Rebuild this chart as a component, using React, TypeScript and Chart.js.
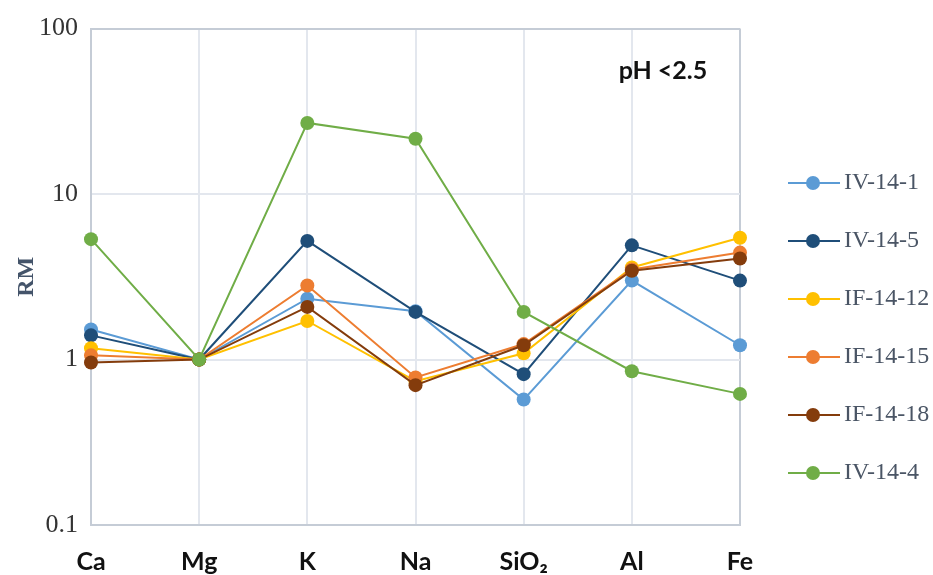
import React, { useEffect, useRef } from "react";
import { Chart, registerables } from "chart.js";

Chart.register(...registerables);

const categories = ["Ca", "Mg", "K", "Na", "SiO\u2082", "Al", "Fe"];
const seriesNames = ["IV-14-1", "IV-14-5", "IF-14-12", "IF-14-15", "IF-14-18", "IV-14-4"];
const seriesColors = ["#5B9BD5", "#1F4E79", "#FFC000", "#ED7D31", "#843C0C", "#70AD47"];
const iv14_1 = [1.52, 1.0, 2.33, 1.96, 0.573, 3.0, 1.22];
const iv14_5 = [1.4, 1.0, 5.21, 1.94, 0.816, 4.9, 3.0];
const if14_12 = [1.17, 1.0, 1.71, 0.74, 1.09, 3.6, 5.45];
const if14_15 = [1.06, 1.0, 2.8, 0.78, 1.24, 3.5, 4.43];
const if14_18 = [0.96, 1.0, 2.08, 0.7, 1.22, 3.44, 4.08];
const iv14_4 = [5.34, 1.0, 26.9, 21.6, 1.94, 0.85, 0.62];
const seriesValues = [iv14_1, iv14_5, if14_12, if14_15, if14_18, iv14_4];
const yTickValues = [0.1, 1, 10, 100];
const annotationText = "pH <2.5";

function makeLegendIcon(color: string): HTMLCanvasElement {
  const c = document.createElement("canvas");
  c.width = 74;
  c.height = 16;
  const g = c.getContext("2d")!;
  g.strokeStyle = color;
  g.lineWidth = 2;
  g.beginPath();
  g.moveTo(22, 8);
  g.lineTo(74, 8);
  g.stroke();
  g.fillStyle = color;
  g.beginPath();
  g.arc(47, 8, 7, 0, Math.PI * 2);
  g.fill();
  return c;
}

const annotationPlugin = {
  id: "phLabel",
  afterDraw(chart: any) {
    const { ctx, chartArea } = chart;
    ctx.save();
    ctx.font = "bold 25px Lato, 'Open Sans', sans-serif";
    ctx.fillStyle = "#111111";
    ctx.textAlign = "center";
    ctx.textBaseline = "middle";
    ctx.fillText(annotationText, chartArea.right - 77, chartArea.top + 42);
    ctx.restore();
  },
};

export default function App() {
  const ref = useRef<HTMLCanvasElement | null>(null);
  useEffect(() => {
    if (!ref.current) return;
    const icons = seriesColors.map(makeLegendIcon);
    const gridLight = "#e3e7ee";
    const gridDark = "#c5ccd6";
    const serif = "'Liberation Serif', 'Times New Roman', serif";
    const chart = new Chart(ref.current, {
      type: "line",
      data: {
        labels: categories,
        datasets: seriesNames.map((name, i) => ({
          label: name,
          data: seriesValues[i],
          borderColor: seriesColors[i],
          backgroundColor: seriesColors[i],
          pointBackgroundColor: seriesColors[i],
          pointBorderColor: seriesColors[i],
          borderWidth: 2,
          pointRadius: 7,
          pointBorderWidth: 0,
          tension: 0,
          fill: false,
          order: seriesNames.length - i,
        })),
      },
      options: {
        animation: false,
        responsive: true,
        maintainAspectRatio: false,
        layout: { padding: { top: 24, right: 0, bottom: 0, left: 0 } },
        plugins: {
          tooltip: { enabled: false },
          legend: {
            position: "right",
            align: "start",
            maxWidth: 193,
            title: { display: true, text: "", padding: { top: 98.6, bottom: 0 } },
            labels: {
              usePointStyle: true,
              pointStyleWidth: 58,
              padding: 34,
              color: "#4a5565",
              font: { family: serif, size: 24 },
              generateLabels: (ch: any) =>
                ch.data.datasets.map((ds: any, i: number) => ({
                  text: ds.label,
                  fillStyle: seriesColors[i],
                  strokeStyle: seriesColors[i],
                  lineWidth: 0,
                  pointStyle: icons[i],
                  hidden: false,
                  datasetIndex: i,
                  fontColor: "#4a5565",
                })),
            },
          },
        },
        scales: {
          x: {
            type: "category",
            offset: false,
            grid: {
              offset: false,
              drawTicks: false,
              lineWidth: 2,
              color: (c: any) => (c.index === categories.length - 1 ? gridDark : gridLight),
            },
            border: { color: gridDark, width: 2 },
            ticks: {
              padding: 22,
              color: "#111111",
              maxRotation: 0,
              autoSkip: false,
              font: { family: "Lato, 'Open Sans', 'DejaVu Sans', sans-serif", size: 25, weight: "bold" },
            },
            afterFit: (s: any) => {
              s.height = 50;
            },
          },
          y: {
            type: "logarithmic",
            min: 0.1,
            max: 100,
            afterBuildTicks: (s: any) => {
              s.ticks = yTickValues.map((v) => ({ value: v }));
            },
            afterFit: (s: any) => {
              s.width = 91;
            },
            grid: {
              drawTicks: false,
              lineWidth: 2,
              color: (c: any) => (c.tick && c.tick.value === 100 ? gridDark : gridLight),
            },
            border: { color: gridDark, width: 2 },
            ticks: {
              padding: 13,
              color: "#333333",
              font: { family: serif, size: 26 },
              callback: (v: any) => String(v),
            },
            title: {
              display: true,
              text: "RM",
              color: "#44546A",
              padding: { top: 12, bottom: 4 },
              font: { family: serif, size: 24, weight: "bold" },
            },
          },
        },
      },
      plugins: [annotationPlugin],
    } as any);
    return () => chart.destroy();
  }, []);
  return (
    <div style={{ position: "absolute", left: 0, top: 0, width: 933, height: 575 }}>
      <canvas ref={ref} />
    </div>
  );
}
